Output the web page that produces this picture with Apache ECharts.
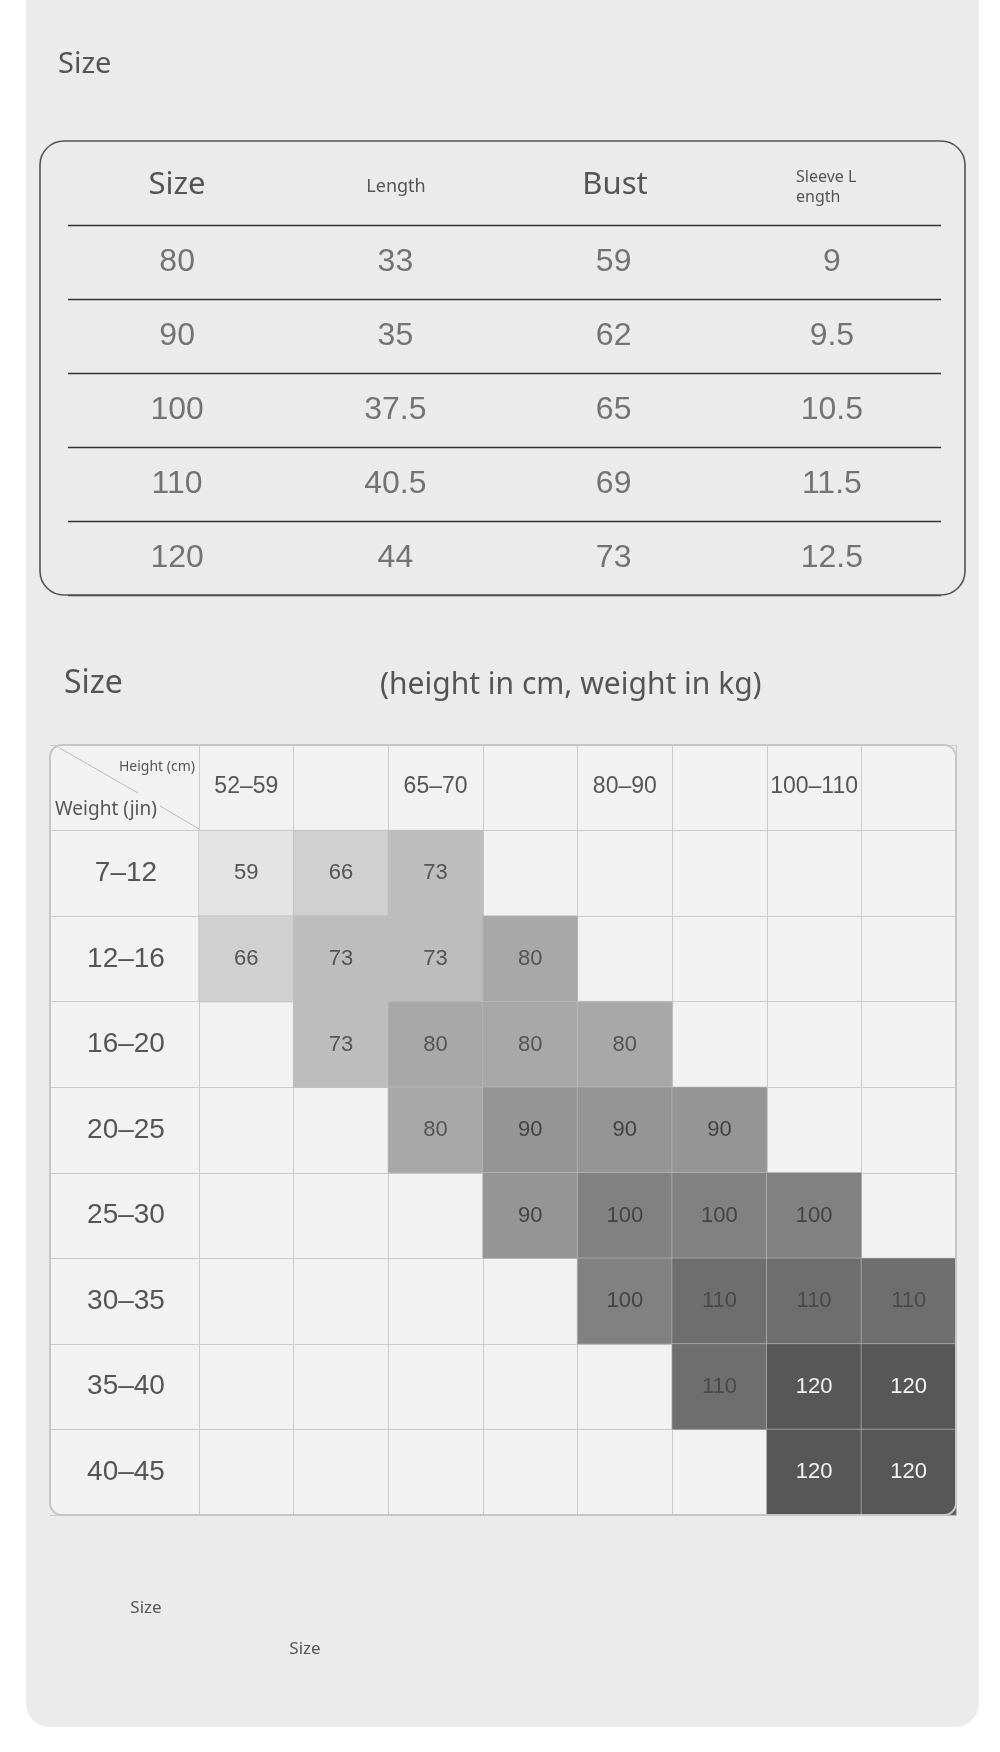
<!DOCTYPE html>
<html>
<head>
<meta charset="utf-8">
<script src="https://cdn.jsdelivr.net/npm/echarts@6/dist/echarts.min.js"></script>
<style>html,body{margin:0;padding:0;background:#fff}#main{width:1000px;height:1752px}</style>
</head>
<body>
<div id="main"></div>
<script>
// size table
var sizeHeaders = ['Size', 'Length', 'Bust', 'Sleeve L\nength'];
var sizes = ['80', '90', '100', '110', '120'];
var lengths = ['33', '35', '37.5', '40.5', '44'];
var busts = ['59', '62', '65', '69', '73'];
var sleeves = ['9', '9.5', '10.5', '11.5', '12.5'];

// height / weight chart
var heights = ['52–59', '59–65', '65–70', '70–80', '80–90', '90–100', '100–110', '110–120'];
var weights = ['7–12', '12–16', '16–20', '20–25', '25–30', '30–35', '35–40', '40–45'];
var sizeGrid = [
    [59, 66, 73, null, null, null, null, null],
    [66, 73, 73, 80, null, null, null, null],
    [null, 73, 80, 80, 80, null, null, null],
    [null, null, 80, 90, 90, 90, null, null],
    [null, null, null, 90, 100, 100, 100, null],
    [null, null, null, null, 100, 110, 110, 110],
    [null, null, null, null, null, 110, 120, 120],
    [null, null, null, null, null, null, 120, 120]
];

var cellColor = {59: '#e4e4e4', 66: '#d0d0d0', 73: '#bdbdbd', 80: '#a8a8a8', 90: '#959595', 100: '#818181', 110: '#6e6e6e', 120: '#575757'};
var labelColor = {59: '#555', 66: '#555', 73: '#555', 80: '#555', 90: '#444', 100: '#444', 110: '#4a4a4a', 120: '#f2f2f2'};

var tableData = [];
var tableCols = [sizes, lengths, busts, sleeves];
for (var c = 0; c < tableCols.length; c++) {
    for (var r = 0; r < sizes.length; r++) {
        tableData.push([c, r, tableCols[c][r]]);
    }
}
var heatData = [];
for (var i = 0; i < sizeGrid.length; i++) {
    for (var j = 0; j < sizeGrid[i].length; j++) {
        if (sizeGrid[i][j] !== null) heatData.push([j, weights[i], sizeGrid[i][j]]);
    }
}

var numFont = '"Liberation Sans", Arial, sans-serif';
var txtFont = '"Noto Sans", sans-serif';

var myChart = echarts.init(document.getElementById('main'));
var option = {
    animation: false,
    backgroundColor: '#fff',
    graphic: [
        { type: 'rect', z: -10, shape: { x: 26, y: -30, width: 953, height: 1757, r: 24 }, style: { fill: '#ebebeb' } },
        { type: 'text', left: 58, top: 50, style: { text: 'Size', font: '29px ' + txtFont, fill: '#555' } },
        { type: 'rect', z: 10, shape: { x: 40, y: 141, width: 925, height: 454, r: 24 }, style: { fill: 'none', stroke: '#555', lineWidth: 1.6 } },
        { type: 'text', x: 177, y: 185, style: { text: sizeHeaders[0], font: '31px ' + txtFont, fill: '#555', align: 'center', verticalAlign: 'middle' } },
        { type: 'text', x: 396, y: 187, style: { text: sizeHeaders[1], font: '18px ' + txtFont, fill: '#555', align: 'center', verticalAlign: 'middle' } },
        { type: 'text', x: 615, y: 185, style: { text: sizeHeaders[2], font: '31px ' + txtFont, fill: '#555', align: 'center', verticalAlign: 'middle' } },
        { type: 'text', x: 796, y: 187, style: { text: sizeHeaders[3], font: '16px ' + txtFont, fill: '#555', align: 'left', verticalAlign: 'middle', lineHeight: 20 } },
        { type: 'text', left: 64, top: 668, style: { text: 'Size', font: '32px ' + txtFont, fill: '#555' } },
        { type: 'text', left: 380, top: 670, style: { text: '(height in cm, weight in kg)', font: '30px ' + txtFont, fill: '#555' } },
        { type: 'rect', z: -5, shape: { x: 50, y: 745, width: 906, height: 770, r: 12 }, style: { fill: '#f3f2f3' } },
        { type: 'rect', z: 10, shape: { x: 50, y: 745, width: 906, height: 770, r: 12 }, style: { fill: 'none', stroke: '#c6c6c6', lineWidth: 2 } },
        { type: 'line', z: 5, shape: { x1: 58, y1: 747, x2: 138, y2: 793 }, style: { stroke: '#bbb', lineWidth: 1 } },
        { type: 'line', z: 5, shape: { x1: 160, y1: 806, x2: 199, y2: 829 }, style: { stroke: '#bbb', lineWidth: 1 } },
        { type: 'text', x: 157, y: 767, style: { text: 'Height (cm)', font: '14px ' + txtFont, fill: '#555', align: 'center', verticalAlign: 'middle' } },
        { type: 'text', x: 106, y: 810, style: { text: 'Weight (jin)', font: '19px ' + txtFont, fill: '#555', align: 'center', verticalAlign: 'middle' } },
        { type: 'text', x: 146, y: 1608, style: { text: 'Size', font: '17px ' + txtFont, fill: '#555', align: 'center', verticalAlign: 'middle' } },
        { type: 'text', x: 305, y: 1649, style: { text: 'Size', font: '17px ' + txtFont, fill: '#555', align: 'center', verticalAlign: 'middle' } }
    ],
    grid: [
        { left: 68, width: 873, top: 225, height: 370 },
        { left: 199, right: 44, top: 745, height: 770 }
    ],
    xAxis: [
        { gridIndex: 0, type: 'value', min: -0.5, max: 3.5, show: false },
        {
            gridIndex: 1, type: 'category', position: 'top', data: heights,
            axisLine: { show: false }, axisTick: { show: false },
            axisLabel: { inside: true, margin: 42, verticalAlign: 'middle', color: '#555', fontSize: 23, fontFamily: numFont },
            splitLine: { show: true, interval: 0, lineStyle: { color: '#cccccc', width: 1 } }
        }
    ],
    yAxis: [
        {
            gridIndex: 0, type: 'category', inverse: true, data: sizes,
            axisLine: { show: false }, axisTick: { show: false }, axisLabel: { show: false },
            splitLine: { show: true, interval: 0, lineStyle: { color: '#333', width: 1.3 } }
        },
        {
            gridIndex: 1, type: 'category', inverse: true, data: [''].concat(weights),
            axisLine: { show: false },
            axisTick: { show: true, length: 149, interval: 0, lineStyle: { color: '#cccccc' } },
            axisLabel: { margin: 73, align: 'center', color: '#555', fontSize: 28, fontFamily: numFont },
            splitLine: { show: true, interval: 0, lineStyle: { color: '#cccccc', width: 1 } }
        }
    ],
    series: [
        {
            type: 'scatter', xAxisIndex: 0, yAxisIndex: 0, symbolSize: 0, data: tableData,
            label: {
                show: true, position: 'inside', color: '#555', fontSize: 32, fontFamily: numFont,
                formatter: function (p) { return p.value[2]; }
            }
        },
        {
            type: 'heatmap', xAxisIndex: 1, yAxisIndex: 1, data: heatData,
            itemStyle: {
                color: function (p) { return cellColor[p.value[2]]; },
                borderColor: '#bdbdbd', borderWidth: 0.6
            },
            label: {
                show: true, fontSize: 22, fontFamily: numFont,
                formatter: function (p) { return p.value[2]; },
                rich: {}
            }
        }
    ]
};
// per-cell label colour
option.series[1].data = heatData.map(function (d) {
    return { value: d, label: { color: labelColor[d[2]] } };
});
myChart.setOption(option);
</script>
</body>
</html>
